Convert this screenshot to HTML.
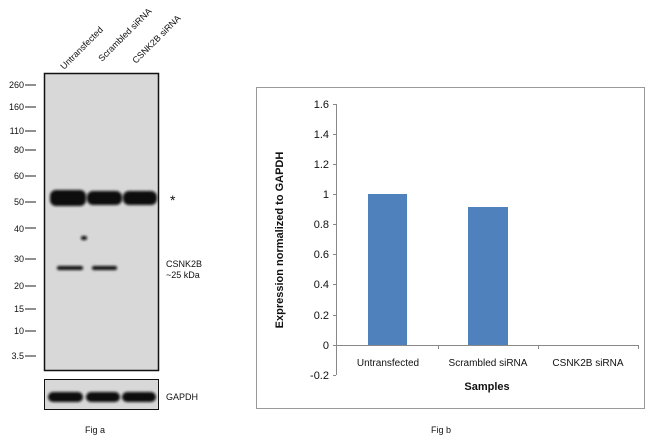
<!DOCTYPE html>
<html><head><style>
body{margin:0;width:650px;height:441px;background:#fff;font-family:"Liberation Sans",sans-serif;overflow:hidden}
</style></head><body>
<svg width="650" height="441" xmlns="http://www.w3.org/2000/svg" font-family="Liberation Sans, sans-serif">
<defs><filter id="b"><feGaussianBlur stdDeviation="1.2"/></filter></defs>
<!-- lane labels -->
<g font-size="9" fill="#111">
<text transform="translate(64,70) rotate(-45)">Untransfected</text>
<text transform="translate(102,62) rotate(-45)">Scrambled siRNA</text>
<text transform="translate(136,64) rotate(-45)">CSNK2B  siRNA</text>
</g>
<rect x="44.5" y="73.5" width="114" height="297" fill="#d8d8d8" stroke="#111" stroke-width="1.5"/>
<rect x="44.5" y="379.5" width="114" height="30" fill="#d8d8d8" stroke="#111" stroke-width="1"/>
<g filter="url(#b)" fill="#0a0a0a">
<rect x="50" y="190" width="36" height="16" rx="6"/>
<rect x="87" y="191" width="35" height="14" rx="6"/>
<rect x="123" y="191" width="34" height="14" rx="6"/>
<rect x="57" y="266" width="26" height="4" rx="2"/>
<rect x="92" y="266" width="25" height="4" rx="2"/>
<rect x="81" y="236" width="6" height="4" rx="2"/>
<rect x="48" y="392" width="35" height="10" rx="5"/>
<rect x="86" y="392" width="34" height="10" rx="5"/>
<rect x="122" y="392" width="34" height="10" rx="5"/>
</g>
<g font-size="9" fill="#111" text-anchor="end">
<text x="24" y="88">260</text><text x="24" y="110">160</text><text x="24" y="134">110</text>
<text x="24" y="153">80</text><text x="24" y="179">60</text><text x="24" y="205">50</text>
<text x="24" y="232">40</text><text x="24" y="262">30</text><text x="24" y="289">20</text>
<text x="24" y="312">15</text><text x="24" y="334">10</text><text x="24" y="359">3.5</text>
</g>
<g stroke="#222" stroke-width="1">
<line x1="25" x2="36" y1="85" y2="85"/><line x1="25" x2="36" y1="107" y2="107"/>
<line x1="25" x2="36" y1="131" y2="131"/><line x1="25" x2="36" y1="150" y2="150"/>
<line x1="25" x2="36" y1="176" y2="176"/><line x1="25" x2="36" y1="202" y2="202"/>
<line x1="25" x2="36" y1="228" y2="228"/><line x1="25" x2="36" y1="259" y2="259"/>
<line x1="25" x2="36" y1="286" y2="286"/><line x1="25" x2="36" y1="309" y2="309"/>
<line x1="25" x2="36" y1="331" y2="331"/><line x1="25" x2="36" y1="356" y2="356"/>
</g>
<g font-size="9" fill="#111">
<text x="170" y="205" font-size="14">*</text>
<text x="166" y="267">CSNK2B</text><text x="166" y="278">~25 kDa</text>
<text x="166" y="400">GAPDH</text>
<text x="95" y="433" text-anchor="middle">Fig a</text>
<text x="441" y="433" text-anchor="middle">Fig b</text>
</g>
<!-- chart -->
<rect x="256.5" y="87.5" width="388" height="321" fill="#fff" stroke="#999" stroke-width="1"/>
<rect x="368" y="315" width="39" height="30" fill="#4f81bd"/>
<rect x="368" y="194" width="39" height="151" fill="#4f81bd"/>
<rect x="468" y="207" width="40" height="138" fill="#4f81bd"/>
<g stroke="#888" stroke-width="1">
<line x1="336.5" x2="336.5" y1="104" y2="375"/>
<line x1="336" x2="638" y1="345.5" y2="345.5"/>
<line x1="333" x2="336" y1="104.5" y2="104.5"/><line x1="333" x2="336" y1="134.5" y2="134.5"/>
<line x1="333" x2="336" y1="164.5" y2="164.5"/><line x1="333" x2="336" y1="194.5" y2="194.5"/>
<line x1="333" x2="336" y1="224.5" y2="224.5"/><line x1="333" x2="336" y1="254.5" y2="254.5"/>
<line x1="333" x2="336" y1="284.5" y2="284.5"/><line x1="333" x2="336" y1="315.5" y2="315.5"/>
<line x1="333" x2="336" y1="345.5" y2="345.5"/><line x1="333" x2="336" y1="375.5" y2="375.5"/>
<line x1="438.5" x2="438.5" y1="345" y2="349"/><line x1="538.5" x2="538.5" y1="345" y2="349"/>
<line x1="638.5" x2="638.5" y1="345" y2="349"/>
</g>
<g font-size="11" fill="#111" text-anchor="end">
<text x="329" y="108">1.6</text><text x="329" y="138">1.4</text><text x="329" y="168">1.2</text>
<text x="329" y="198">1</text><text x="329" y="228">0.8</text><text x="329" y="258">0.6</text>
<text x="329" y="288">0.4</text><text x="329" y="319">0.2</text><text x="329" y="349">0</text>
<text x="329" y="379">-0.2</text>
</g>
<g font-size="10" fill="#111" text-anchor="middle">
<text x="388" y="366">Untransfected</text>
<text x="488" y="366">Scrambled siRNA</text>
<text x="588" y="366">CSNK2B siRNA</text>
<text x="487" y="390" font-weight="bold" font-size="11">Samples</text>
<text transform="translate(283,240) rotate(-90)" font-weight="bold" font-size="11">Expression normalized to GAPDH</text>
</g>
</svg>
</body></html>
